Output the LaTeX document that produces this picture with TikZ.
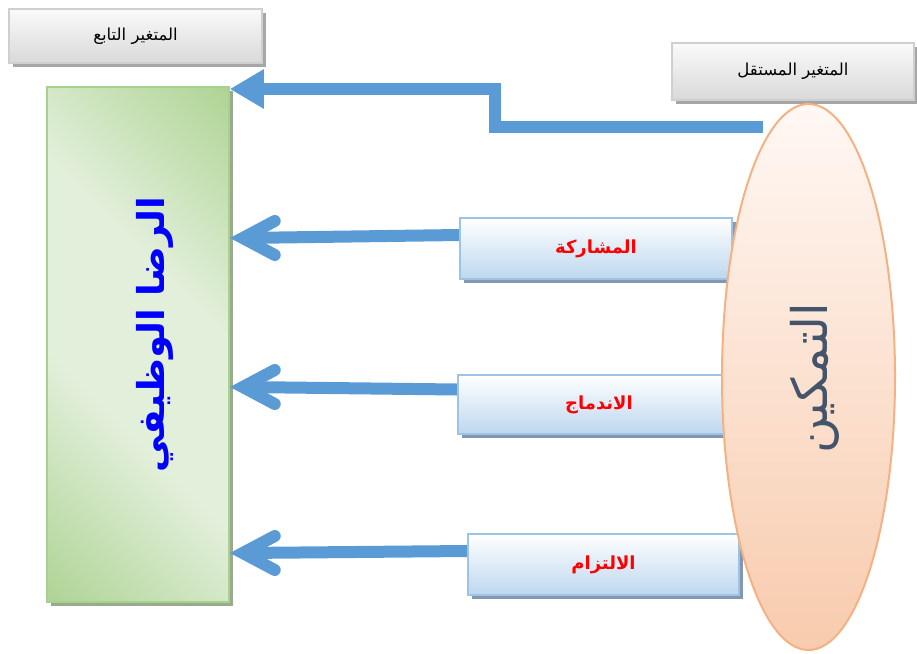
\documentclass[tikz,border=0pt]{standalone}
\usepackage{fontspec}
\usetikzlibrary{arrows.meta,shapes.geometric,shadows,calc}
\TeXXeTstate=1
\newfontfamily\arabicfont[Script=Arabic]{DejaVu Sans}

\definecolor{arrowblue}{HTML}{5B9BD5}
\definecolor{grayedge}{HTML}{CFCFCF}
\definecolor{graytop}{HTML}{FAFAFA}
\definecolor{graybot}{HTML}{D9D9D9}
\definecolor{grayshadow}{HTML}{A6A6A6}
\definecolor{blueedge}{HTML}{9DC3E6}
\definecolor{bluetop}{HTML}{FFFFFF}
\definecolor{bluebot}{HTML}{BDD7EE}
\definecolor{blueshadow}{HTML}{8497B0}
\definecolor{gdark}{HTML}{A9D18E}
\definecolor{glight}{HTML}{E2EFDA}
\definecolor{greenshadow}{HTML}{9AAA8C}
\definecolor{peachedge}{HTML}{F4B183}
\definecolor{peachtop}{HTML}{FFF8F4}
\definecolor{peachbot}{HTML}{F8CBAD}
\definecolor{slate}{HTML}{44546A}

\pgfdeclarehorizontalshading{greenband}{100bp}{color(0bp)=(gdark); color(12bp)=(gdark); color(40bp)=(glight); color(60bp)=(glight); color(88bp)=(gdark); color(100bp)=(gdark)}

\tikzset{
  graybox/.style={draw=grayedge, line width=1.2pt, top color=graytop, bottom color=graybot,
    general shadow={fill=grayshadow, shadow xshift=4pt, shadow yshift=-4pt},
    inner sep=0pt, font=\arabicfont\fontsize{16.5}{19}\selectfont},
  dimbox/.style={draw=blueedge, line width=1.5pt, top color=bluetop, bottom color=bluebot,
    general shadow={fill=blueshadow, shadow xshift=4pt, shadow yshift=-4pt},
    inner sep=0pt, text=red, font=\arabicfont\bfseries\fontsize{18}{21}\selectfont},
  bigword/.style={rotate=90, inner sep=0pt, font=\arabicfont\bfseries\fontsize{37}{44}\selectfont},
  shaft/.style={draw=arrowblue, line width=12pt},
  stickhead/.style={draw=arrowblue, line width=12pt, line cap=round, line join=miter},
  toparrow/.style={draw=arrowblue, line width=12pt, line join=miter,
    -{Triangle[length=34pt, width=37pt]}}
}

\begin{document}
\begin{tikzpicture}[x=1pt, y=-1pt]
\useasboundingbox (0,0) rectangle (917,653);

% header labels
\node[graybox, minimum width=253pt, minimum height=54pt] (deplabel) at (135.5,36)
  {\beginR المتغير التابع\endR};
\node[graybox, minimum width=242pt, minimum height=57pt] (indlabel) at (793,71.5)
  {\beginR المتغير المستقل\endR};

% dependent variable
\node[draw=gdark, line width=1.5pt, shading=greenband, shading angle=45,
  general shadow={fill=greenshadow, shadow xshift=4pt, shadow yshift=-4pt},
  minimum width=182pt, minimum height=515pt, inner sep=0pt] (dep) at (138,344.5) {};
\node[bigword, text=blue] (deptext) at (155,335) {\beginR الرضا الوظيفي\endR};

% elbow connector from the independent variable
\coordinate (src) at (763,127);
\coordinate (bend) at (495,127);
\coordinate (toptip) at (dep.east |- 0,89);
\draw[toparrow] (src) -- (bend) |- (toptip);

% arrow vertices at the dependent variable
\coordinate (v1) at ($(dep.east |- 0,238)+(13,0)$);
\coordinate (v2) at ($(dep.east |- 0,387)+(13,0)$);
\coordinate (v3) at ($(dep.east |- 0,553)+(13,0)$);

% dimension boxes
\node[dimbox, minimum width=272pt, minimum height=61pt] (b1) at (596,248.5) {};
\node[dimbox, minimum width=282pt, minimum height=59pt] (b2) at (599,404.5) {};
\node[dimbox, minimum width=271pt, minimum height=61pt] (b3) at (603.5,564.5) {};

% connectors from the dimensions
\draw[shaft] ([yshift=13.5pt]b1.west) -- (v1);
\draw[shaft] ([yshift=15pt]b2.west) -- (v2);
\draw[shaft] ([yshift=13.5pt]b3.west) -- (v3);
\draw[stickhead] ($(v1)+(32,-17)$) -- (v1) -- ($(v1)+(32,17)$);
\draw[stickhead] ($(v2)+(32,-17)$) -- (v2) -- ($(v2)+(32,17)$);
\draw[stickhead] ($(v3)+(32,-17)$) -- (v3) -- ($(v3)+(32,17)$);

% redraw the boxes over the shaft ends
\node[dimbox, minimum width=272pt, minimum height=61pt] (b1top) at (596,248.5)
  {\beginR المشاركة\endR};
\node[dimbox, minimum width=282pt, minimum height=59pt] (b2top) at (599,404.5)
  {\beginR الاندماج\endR};
\node[dimbox, minimum width=271pt, minimum height=61pt] (b3top) at (603.5,564.5)
  {\beginR الالتزام\endR};

% independent variable
\node[ellipse, draw=peachedge, line width=2pt, top color=peachtop, bottom color=peachbot,
  minimum width=173pt, minimum height=546pt, inner sep=0pt] (indep) at (808.5,377) {};
\node[bigword, text=slate, font=\arabicfont\fontsize{49}{58}\selectfont] (indtext) at (815,378)
  {\beginR التمكين\endR};
\end{tikzpicture}
\end{document}
